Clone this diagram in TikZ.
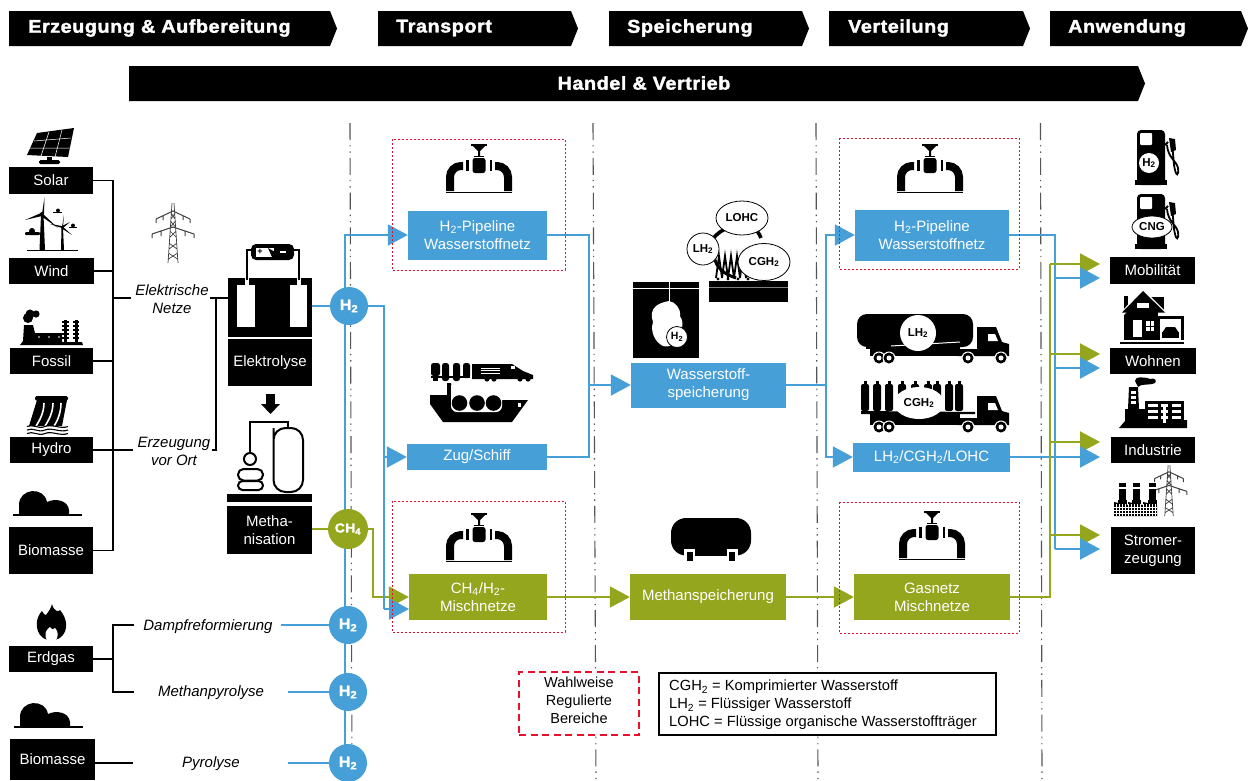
\documentclass[tikz,border=0pt]{standalone}
\usepackage{fontspec}
\setmainfont{Liberation Sans}
\newfontfamily\headfont[FakeBold=1.8,FakeStretch=1.07,LetterSpace=3]{Liberation Sans Bold}
\usetikzlibrary{arrows.meta,shapes.geometric}
\definecolor{hblue}{HTML}{479FD8}
\definecolor{holive}{HTML}{94A61E}
\definecolor{hred}{HTML}{E8112D}
\definecolor{hgray}{HTML}{555555}
\newcommand{\subtwo}{\textsubscript{2}}
\tikzset{
 every node/.style={font=\fontsize{15}{18}\selectfont,align=center,inner sep=0pt},
 hlabel/.style={text=white,font=\headfont\fontsize{18.5}{20}\selectfont,anchor=west},
 hlabelc/.style={text=white,font=\headfont\fontsize{18.5}{20}\selectfont},
 blackbox/.style={fill=black,text=white},
 bluebox/.style={fill=hblue,text=white},
 olivebox/.style={fill=holive,text=white},
 itl/.style={font=\itshape\fontsize{15}{18}\selectfont,text=black},
 bline/.style={draw=black,line width=1.3pt},
 blue line/.style={draw=hblue,line width=2pt},
 olive line/.style={draw=holive,line width=2pt},
 tipb/.style={-{Triangle[length=20pt,width=21pt,fill=hblue]}},
 tipo/.style={-{Triangle[length=20pt,width=21pt,fill=holive]}},
 sep/.style={draw=hgray,line width=1.1pt,dash pattern=on 17pt off 5pt on 1.4pt off 5pt on 1.4pt off 5pt},
 redbox/.style={draw=hred,line width=.8pt,dash pattern=on 2.4pt off 1.6pt},
 blueh/.style={circle,fill=hblue,text=white,minimum size=38pt,font=\headfont\fontsize{15}{14}\selectfont},
 oliveh/.style={circle,fill=holive,text=white,minimum size=40pt,font=\headfont\fontsize{13}{14}\selectfont},
 iconlabel/.style={font=\bfseries\fontsize{11.5}{12}\selectfont,text=black},
 pics/pipeicon/.style={code={
   \draw[line width=1.4pt] (-8,1)--(8,1);
   \fill (-7,1)--(7,1)--(1,7)--(1,12)--(-1,12)--(-1,7)--cycle;
   \draw[line width=1.4pt] (-5,12.5)--(5,12.5);
   \fill[rounded corners=2.5pt] (-6.5,14) rectangle (6.5,29);
   \fill (-13,15.5) rectangle (-10.5,27);
   \fill (10.5,15.5) rectangle (13,27);
   \draw[line width=8pt,line cap=butt,rounded corners=11pt] (-16,22)--(-29,22)--(-29,47);
   \draw[line width=8pt,line cap=butt,rounded corners=11pt] (16,22)--(29,22)--(29,47);
   \draw[line width=1.6pt] (-33,48.5)--(33,48.5);
 }},
 pics/hillicon/.style={code={
   \fill (19,514)--(19,505) .. controls (19,488) and (44,486) .. (47,502) .. controls (55,498) and (68,500) .. (69,510)--(69,514)--cycle;
   \draw[line width=1.6pt] (13,515)--(82,515);
 }},
 pics/pylonicon/.style={code={
   \draw[line width=.7pt,black!75] (-1,0)--(-5,60) (1,0)--(5,60) (-4,40)--(4,46) (4,40)--(-4,46) (-3,28)--(3,34) (3,28)--(-3,34) (-4.5,50)--(4.5,56) (4.5,50)--(-4.5,56) (-2,10)--(2,16) (2,10)--(-2,16) (-2.5,18)--(2.5,24) (2.5,18)--(-2.5,24);
   \draw[line width=1pt,black!75] (-17,16)--(0,8)--(17,16) (-17,16)--(-17,20) (17,16)--(17,20) (-21,31)--(0,24)--(21,31) (-21,31)--(-21,35) (21,31)--(21,35) (-10,13)--(-10,17) (10,13)--(10,17) (-12,28)--(-12,33) (12,28)--(12,33);
 }},
 pics/cabicon/.style={code={
   \fill (977,327)--(996,327)--(1002,342)--(1009,344)--(1009,356)--(958,356)--(958,349)--(977,349)--cycle;
   \fill[white] (988,334)--(995,334)--(998,341)--(988,341)--cycle;
   \fill (870,349) rectangle (960,356);
   \foreach \wx in {879,889,968,1001}{\fill[white] (\wx,358) circle (6.5); \fill (\wx,358) circle (5.5); \fill[white] (\wx,358) circle (2.5);}
 }},
 pics/pumpicon/.style={code={
   \fill[rounded corners=4pt] (1137,185)--(1137,130)--(1165,130)--(1165,185)--cycle;
   \fill (1135,180) rectangle (1167,185);
   \fill[white,rounded corners=1pt] (1140,133) rectangle (1152,145);
   \draw[line width=1.8pt] (1165,145)--(1168,142) (1172,142)--(1174,165) .. controls (1176,178) and (1179,176) .. (1178,168) .. controls (1176,160) and (1168,158) .. (1167,145);
   \fill (1169,138)--(1175,139)--(1176,150)--(1171,152)--cycle;
 }}
}
\begin{document}
\begin{tikzpicture}[x=1pt,y=-1pt]
\useasboundingbox (0,0) rectangle (1248,780);
\fill[white] (0,0) rectangle (1248,780);
% header chevrons
\fill (9,11)--(330,11)--(337,28.5)--(330,46)--(9,46)--cycle;
\fill (378,11)--(571,11)--(578,28.5)--(571,46)--(378,46)--cycle;
\fill (609,11)--(802,11)--(809,28.5)--(802,46)--(609,46)--cycle;
\fill (829,11)--(1023,11)--(1030,28.5)--(1023,46)--(829,46)--cycle;
\fill (1050,11)--(1241,11)--(1248,28.5)--(1241,46)--(1050,46)--cycle;
\fill (129,66)--(1138,66)--(1145,83.5)--(1138,101)--(129,101)--cycle;
\node[hlabel] (hA) at (28,28) {Erzeugung \& Aufbereitung};
\node[hlabel] (hB) at (396,28) {Transport};
\node[hlabel] (hC) at (627,28) {Speicherung};
\node[hlabel] (hD) at (848,28) {Verteilung};
\node[hlabel] (hE) at (1068,28) {Anwendung};
\node[hlabelc] (hF) at (644,83) {Handel \& Vertrieb};
% separators
\draw[sep] (350,123)--(352,780);
\draw[sep] (593,123)--(596,780);
\draw[sep] (816,123)--(818,780);
\draw[sep] (1040.5,123)--(1042,780);
% source boxes
\node[blackbox,minimum width=84pt,minimum height=27pt] (solar) at (51,180.5) {\raisebox{-1pt}{Solar}};
\node[blackbox,minimum width=85pt,minimum height=26pt] (wind) at (51.5,271) {\raisebox{-1pt}{Wind}};
\node[blackbox,minimum width=83pt,minimum height=26pt] (fossil) at (51.5,361) {\raisebox{-1pt}{Fossil}};
\node[blackbox,minimum width=83pt,minimum height=26pt] (hydro) at (51.5,450) {\raisebox{-1pt}{Hydro}};
\node[blackbox,minimum width=84pt,minimum height=47pt] (bioA) at (51,550.5) {\raisebox{-1pt}{Biomasse}};
\node[blackbox,minimum width=84pt,minimum height=26pt] (erdgas) at (51,659) {\raisebox{-1pt}{Erdgas}};
\node[blackbox,minimum width=85pt,minimum height=41pt] (bioB) at (52.5,759.5) {\raisebox{-4pt}{Biomasse}};
% process labels
\node[itl] (elnetz) at (172,299) {Elektrische\\Netze};
\node[itl] (vorort) at (174,451) {Erzeugung\\vor Ort};
\node[itl] (dampf) at (208,627) {Dampfreformierung};
\node[itl] (mpyro) at (211,693) {Methanpyrolyse};
\node[itl] (pyro) at (211,764) {Pyrolyse};
% Elektrolyse stack
\fill (228,278) rectangle (312,337);
\fill[white] (237,285) rectangle (255,327);
\fill[white] (290,285) rectangle (307,327);
\fill[white] (245,278) rectangle (249,285);
\fill[white] (297,278) rectangle (301,285);
\node[blackbox,minimum width=84pt,minimum height=47pt] (elyse) at (270,362.5) {Elektrolyse};
\draw[line width=1.8pt] (247,280)--(247,250)--(252,250) (299,280)--(299,250)--(293,250);
\fill[rounded corners=5pt] (251,244) rectangle (294,260);
\fill[white] (256,248) rectangle (274,257);
\fill (268,248)--(284,257)--(272,257)--cycle;
\node[font=\bfseries\fontsize{9}{9}\selectfont,text=black] (bplus) at (260,252) {+};
\fill[white] (280,251) rectangle (286,253);
% down arrow
\fill (266,394) rectangle (275,404);
\fill (261,404)--(280,404)--(270.5,414)--cycle;
% Methanisation icon
\draw[line width=2pt,rounded corners=12pt] (273.5,440)--(273.5,428)--(303,428)--(303,492)--(273.5,492)--cycle;
\draw[line width=2pt] (250,453)--(250,422)--(288,422)--(288,428);
\draw[line width=2pt] (250,459) circle (6);
\draw[line width=2pt,rounded corners=5.5pt] (238,469) rectangle (263,480.5);
\draw[line width=2pt,rounded corners=4.5pt] (238,481) rectangle (263,490);
\fill (227,494) rectangle (312,502);
\node[blackbox,minimum width=85pt,minimum height=48pt] (metha) at (269.5,530) {Metha-\\nisation};
% black connectors
\coordinate (busT) at (113,180.5);
\coordinate (busB) at (113,550.5);
\draw[bline] (solar.east)--(busT)--(busB)--(bioA.east);
\draw[bline] (wind.east)--(wind.east-|busT);
\draw[bline] (fossil.east)--(fossil.east-|busT);
\coordinate (busN) at (131,298);
\draw[bline] (busN-|busT)--(busN);
\coordinate (busV) at (133,450);
\draw[bline] (hydro.east)--(busV);
\coordinate (rN) at (210,298);
\coordinate (rV) at (212,450);
\coordinate (rB) at (216,298);
\draw[bline] (rN)--(228,298);
\draw[bline] (rB)--(rB|-rV)--(rV);
\coordinate (eT) at (113,625);
\coordinate (eB) at (113,692);
\coordinate (eTe) at (134,625);
\coordinate (eBe) at (134,692);
\draw[bline] (eTe)--(eT)--(eB)--(eBe);
\draw[bline] (erdgas.east)--(erdgas.east-|eT);
\coordinate (bE) at (133,763);
\draw[bline] (bioB.east|-bE)--(bE);
% boxes
\node[bluebox,minimum width=139pt,minimum height=49pt] (pipeL) at (477.5,235) {H\subtwo-Pipeline\\Wasserstoffnetz};
\node[bluebox,minimum width=140pt,minimum height=26pt] (zug) at (477,457) {Zug/Schiff};
\node[olivebox,minimum width=138pt,minimum height=46pt] (mischL) at (478,597) {CH\textsubscript{4}/H\subtwo-\\Mischnetze};
\node[bluebox,minimum width=155pt,minimum height=45pt] (wsp) at (708.5,385) {Wasserstoff-\\speicherung};
\node[olivebox,minimum width=156pt,minimum height=46pt] (msp) at (708,597) {Methanspeicherung};
\node[bluebox,minimum width=154pt,minimum height=51pt] (pipeR) at (932,235) {H\subtwo-Pipeline\\Wasserstoffnetz};
\node[bluebox,minimum width=157pt,minimum height=29pt] (lhc) at (931.5,457) {LH\subtwo/CGH\subtwo/LOHC};
\node[olivebox,minimum width=156pt,minimum height=46pt] (gas) at (932,597) {Gasnetz\\Mischnetze};
\node[blackbox,minimum width=85pt,minimum height=27pt] (mob) at (1152.5,270.5) {Mobilität};
\node[blackbox,minimum width=86pt,minimum height=26pt] (wohn) at (1153,361) {Wohnen};
\node[blackbox,minimum width=84pt,minimum height=26pt] (ind) at (1153,450) {Industrie};
\node[blackbox,minimum width=84pt,minimum height=47pt] (strom) at (1153,550.5) {Stromer-\\zeugung};
% junctions
\coordinate (vT) at (345,235);
\coordinate (vB) at (345,763);
\coordinate (j1) at (384,306);
\coordinate (j2) at (384,609);
\coordinate (mischBlue) at (409,609);
\coordinate (jc1) at (373,529);
\coordinate (jc2) at (373,597);
\coordinate (s1) at (589,235);
\coordinate (s2) at (589,457);
\coordinate (s3) at (589,385);
\coordinate (t1) at (826,385);
\coordinate (t2) at (826,235);
\coordinate (t3) at (826,457);
\coordinate (r1) at (1055,235);
\coordinate (r2) at (1055,549);
\coordinate (g1) at (1050,597);
\coordinate (g2) at (1050,264);
\coordinate (tipMo) at (1100,264);
\coordinate (tipMb) at (1100,278);
\coordinate (tipWo) at (1100,354);
\coordinate (tipWb) at (1100,368);
\coordinate (tipIo) at (1100,442);
\coordinate (tipIb) at (1100,457);
\coordinate (tipSo) at (1100,535);
\coordinate (tipSb) at (1100,549);
% blue connectors
\draw[blue line,tipb] (vB)--(vT)--(pipeL.west);
\draw[blue line] (pipeL.east)--(s1)--(s2)--(zug.east);
\draw[blue line,tipb] (s3)--(wsp.west);
\draw[blue line] (wsp.east)--(t1);
\draw[blue line,tipb] (t1)--(t2)--(pipeR.west);
\draw[blue line,tipb] (t1)--(t3)--(lhc.west);
\draw[blue line] (pipeR.east)--(r1)--(r2);
\draw[blue line] (lhc.east)--(lhc.east-|r1);
\draw[olive line] (gas.east)--(g1)--(g2);
\draw[olive line,tipo] (g2)--(tipMo);
\draw[olive line,tipo] (g1|-tipWo)--(tipWo);
\draw[olive line,tipo] (g1|-tipIo)--(tipIo);
\draw[olive line,tipo] (g1|-tipSo)--(tipSo);
\draw[blue line,tipb] (r1|-tipMb)--(tipMb);
\draw[blue line,tipb] (r1|-tipWb)--(tipWb);
\draw[blue line,tipb] (r1|-tipIb)--(tipIb);
\draw[blue line,tipb] (r2)--(tipSb);
% olive connectors
\draw[olive line,tipo] (mischL.east)--(msp.west);
\draw[olive line,tipo] (msp.east)--(gas.west);
% circles
\node[blueh] (hA1) at (349,306) {H\textsubscript{2}};
\node[oliveh] (chc) at (348,529) {CH\textsubscript{4}};
\node[blueh] (hA2) at (348,625) {H\textsubscript{2}};
\node[blueh] (hA3) at (348,692) {H\textsubscript{2}};
\node[blueh] (hA4) at (348,763) {H\textsubscript{2}};
\draw[blue line] (elyse.east|-hA1)--(hA1);
\coordinate (dampfE) at (281,625);
\coordinate (mpyE) at (288,692);
\coordinate (pyE) at (288,763);
\draw[blue line] (dampfE)--(hA2);
\draw[blue line] (mpyE)--(hA3);
\draw[blue line] (pyE)--(hA4);
\draw[olive line] (metha.east|-chc)--(chc);
\draw[olive line,tipo] (chc)--(jc1)--(jc2)--(mischL.west);
\draw[blue line] (hA1)--(j1)--(j2);
\draw[blue line,tipb] (j1|-zug.west)--(zug.west);
\draw[blue line,tipb] (j2)--(mischBlue);
% red regional boxes
\draw[redbox] (392,139) rectangle (565,270);
\draw[redbox] (392,501) rectangle (565,632);
\draw[redbox] (839,138) rectangle (1019,269);
\draw[redbox] (839,502) rectangle (1019,633);
% pipe icons
\pic at (479,144) {pipeicon};
\pic at (479,513) {pipeicon};
\pic at (930,144) {pipeicon};
\pic at (932,511) {pipeicon};
% pylon
\pic at (173,203) {pylonicon};
\pic[scale=.85] at (1169,465) {pylonicon};
% solar
\fill (37,133)--(74,128)--(68,157)--(27,155)--cycle;
\draw[white,line width=.5pt] (49,132)--(41,156) (62,130)--(55,157) (34,141)--(71,138) (30,148)--(70,148);
\fill (47,157) rectangle (52,160);
\fill[rounded corners=1.5pt] (39,160) rectangle (60,164);
% wind
\fill (41,215)--(43.5,215)--(45,250)--(39.5,250)--cycle;
\fill (42,214)--(44.5,197)--(44,214)--cycle;
\fill (41,213)--(25,220)--(42,216)--cycle;
\fill (42,213)--(58,228)--(41,216)--cycle;
\fill (42,214) circle (2);
\fill (61.5,228)--(63,228)--(64,250)--(61,250)--cycle;
\fill (62,227)--(64,215)--(63,227)--cycle;
\fill (62,226)--(50,224)--(62,228)--cycle;
\fill (62,226)--(72,235)--(61,228)--cycle;
\fill (62,226)--(70,222)--(63,228)--cycle;
\draw[line width=.8pt] (27,250)--(78,250);
\fill[rounded corners=1pt] (25,232) rectangle (40,235);
\fill (32,231) circle (3);
\fill (53,211.5) rectangle (62,212.5);
\fill (58,210.5) circle (2);
\fill (69,226.5) rectangle (77,227.5);
\fill (73,225.5) circle (2);
% fossil
\fill (24,325)--(33,325)--(35,333)--(62,333)--(62,342)--(82,342)--(83,345)--(20,345)--(23,341)--cycle;
\fill (28,318) circle (5);
\fill (36,314) circle (3.6);
\fill (30,314) circle (4.5);
\foreach \fx in {65.5,76}{\foreach \fy in {321,325,329,333,337}{\fill (\fx-3.3,\fy) rectangle (\fx+3.3,\fy+2.4);}\fill (\fx-1.5,320) rectangle (\fx+1.5,344);}
\foreach \fx in {39,49,59}{\fill[white] (\fx,337) circle (.8);}
% hydro
\fill[rounded corners=1.5pt] (35,396) rectangle (68,400.5);
\fill (37,400)--(67,400)--(62,426)--(29,426)--cycle;
\draw[white,line width=1.6pt] (44,403) .. controls (44,412) and (40,420) .. (36,426) (53,403) .. controls (53,412) and (49,420) .. (45,426) (61,403) .. controls (61,412) and (58,420) .. (54,426);
\foreach \wy in {426.5,430,433.5}{\draw[line width=1.1pt] (27,\wy) .. controls (33,\wy-3) and (38,\wy+3) .. (45,\wy) .. controls (52,\wy-3) and (60,\wy+3) .. (68,\wy);}
% hills
\pic at (0,0) {hillicon};
\pic at (1,212) {hillicon};
% flame
\fill (52,604) .. controls (54,612) and (59,612) .. (60,610) .. controls (67,618) and (69,630) .. (61,637) .. controls (57,641) and (46,641) .. (42,637) .. controls (35,631) and (35,618) .. (42,611) .. controls (43,614) and (45,615) .. (46,615) .. controls (48,612) and (51,609) .. (52,604)--cycle;
\fill[white] (50,627) .. controls (52,630) and (54,630) .. (55,628) .. controls (59,632) and (58,637) .. (56,640) -- (47,640) .. controls (44,636) and (45,630) .. (50,627)--cycle;
% train
\fill[rounded corners=2.5pt] (431,363) rectangle (440,376);
\fill (433,376) rectangle (438,381);
\fill[rounded corners=2.5pt] (442,363) rectangle (449,381);
\fill[rounded corners=2.5pt] (453,363) rectangle (460,381);
\fill[rounded corners=2.5pt] (463,363) rectangle (470,378);
\fill (431,376) rectangle (470,378);
\fill (472,364)--(512,364)--(523,371)--(533,375)--(533,379)--(472,379)--cycle;
\draw[white,line width=.6pt] (481,368)--(500,368) (481,370.5)--(500,370.5) (481,373)--(500,373);
\fill[white] (511,366) rectangle (515,369);
\foreach \wx in {487,494,520,528}{\fill (\wx,379) circle (2.6);}
% ship
\fill (430,395)--(447,395)--(447,383)--(451,383)--(453,395)--(500,400)--(528,400)--(512,422)--(443,422)--(430,404)--cycle;
\fill[white,rounded corners=6pt] (451,390) rectangle (502,412);
\fill[white] (451,385) rectangle (510,396);
\fill (447,383) rectangle (451,396);
\foreach \sx in {459.5,477,493.5}{\fill (\sx,403) circle (7.8);}
\fill[white] (518,403) rectangle (520.5,407);
% tank farm
\fill (709,281) rectangle (788,302);
\draw[gray,line width=.8pt] (709,287)--(788,287);
\draw[line width=3.6pt] (712,240) .. controls (716,234) and (722,230) .. (730,227);
\draw[line width=3.6pt] (752,228) .. controls (757,230) and (759,233) .. (761,238);
\foreach \zx in {716,722,728,734,740,746}{\draw[line width=1.8pt] (\zx,278)--(\zx+3,256)--(\zx+6,278);}
\draw[line width=3pt] (714,256) .. controls (716,268) and (724,274) .. (736,278);
\foreach \zx in {718,728,738,748,758,768}{\fill (\zx,279) circle (1.6);}
\node[ellipse,draw=black,fill=white,line width=.8pt,minimum width=52pt,minimum height=34pt,iconlabel] (lohcb) at (742,218) {LOHC};
\node[circle,draw=black,fill=white,line width=.8pt,minimum size=32pt,iconlabel] (lhb) at (703,249) {LH\textsubscript{2}};
\node[ellipse,draw=black,fill=white,line width=.8pt,minimum width=52pt,minimum height=37pt,iconlabel] (cghb) at (764,262) {CGH\textsubscript{2}};
% cavern
\fill (633,282) rectangle (699,358);
\draw[white,line width=1pt] (633,288)--(699,288);
\draw[white,line width=1pt] (669,282)--(669,302);
\fill[white] (669,301) .. controls (675,302) and (681,308) .. (680,316) .. controls (684,322) and (683,328) .. (679,333) .. controls (678,343) and (670,348) .. (663,346) .. controls (655,342) and (650,332) .. (653,322) .. controls (651,316) and (651,310) .. (656,306) .. controls (660,303) and (664,302) .. (669,301)--cycle;
\node[circle,draw=black,fill=white,line width=.8pt,minimum size=21pt,font=\bfseries\fontsize{10.5}{11}\selectfont] (hcav) at (677,337) {H\textsubscript{2}};
% trucks
\fill[rounded corners=10pt] (857,314) rectangle (973,347);
\fill (866,340) rectangle (960,349);
\draw[white,line width=1pt] (891,346)--(960,342);
\pic at (0,0) {cabicon};
\node[circle,fill=white,minimum size=36pt,iconlabel] (lht) at (918,333) {LH\textsubscript{2}};
\foreach \cx in {865,877,889,902,915,928,937,949,959}{\fill[rounded corners=2pt] (\cx-4,384) rectangle (\cx+4,411); \fill (\cx-1.5,381) rectangle (\cx+1.5,385);}
\fill (861,411)--(975,412)--(975,414)--(861,414)--cycle;
\fill (870,414) rectangle (960,418);
\pic at (0,69) {cabicon};
\node[ellipse,fill=white,minimum width=50pt,minimum height=32pt,iconlabel] (cgt) at (919,403) {CGH\textsubscript{2}};
% methane tank
\fill[rounded corners=15pt] (671,518) rectangle (751,555.5);
\fill (686,552) rectangle (736,556);
\fill[white] (684,549) rectangle (695,561);
\fill[white] (727,549) rectangle (738,561);
\fill (687,551.5) rectangle (693,561);
\fill (729,551.5) rectangle (735,561);
% pumps
\pic at (0,0) {pumpicon};
\pic at (0,64) {pumpicon};
\node[circle,fill=white,minimum size=20pt,iconlabel] (hp) at (1149,163) {H\textsubscript{2}};
\node[ellipse,draw=black,fill=white,line width=.8pt,minimum width=40pt,minimum height=22pt,iconlabel] (cngp) at (1152,227) {CNG};
% house
\fill (1124,296) rectangle (1128,310);
\fill (1145,297) rectangle (1164,312);
\fill (1124,312) rectangle (1158,340);
\fill[white] (1143,289)--(1120,313)--(1124,315)--(1143,295)--(1165,315)--(1167,313)--cycle;
\fill (1143,291)--(1122,312.5)--(1165,312.5)--cycle;
\fill[white] (1137,303) rectangle (1149,308);
\fill[white] (1133,320) rectangle (1142,337);
\fill[white] (1146,321) rectangle (1154,331);
\fill (1149.5,321) rectangle (1150.5,331);
\fill (1146,325.5) rectangle (1154,326.5);
\fill (1158,316) rectangle (1184,340);
\fill[white] (1160,319) rectangle (1181,340);
\fill (1162,332) rectangle (1179,338);
\fill (1166,327)--(1175,327)--(1179,333)--(1162,333)--cycle;
\draw[line width=1.6pt] (1120,343)--(1184,343);
% factory
\fill (1129,387)--(1138,387)--(1139,409)--(1146,409)--(1146,420)--(1187,420)--(1187,428)--(1119,428)--(1125,421)--(1125,409)--(1128,409)--cycle;
\foreach \fy in {391,396,401}{\fill[white] (1131,\fy) rectangle (1136,\fy+2.5);}
\fill (1145,401) rectangle (1184,426);
\foreach \fy in {404,410,416}{\fill[white] (1148,\fy) rectangle (1158,\fy+3); \fill[white] (1161,\fy) rectangle (1168,\fy+3); \fill[white] (1172,\fy) rectangle (1181,\fy+3);}
\fill[white] (1163,405) rectangle (1166,423);
\fill (1135,381) .. controls (1134,376) and (1146,377) .. (1150,379) .. controls (1155,377) and (1157,381) .. (1155,383) .. controls (1148,386) and (1142,383) .. (1138,387)--cycle;
% power station
\foreach \px in {1122,1136,1152}{\fill (\px-3.5,483) rectangle (\px+3.5,487); \fill (\px-3.5,489) rectangle (\px+3.5,506); \fill (\px-4.5,500)--(\px+4.5,500)--(\px+4.5,506)--(\px-4.5,506)--cycle;}
\fill (1114,502)--(1128,505)--(1128,516)--(1114,516)--cycle;
\fill (1128,502)--(1143,505)--(1143,516)--(1128,516)--cycle;
\fill (1143,502)--(1157,505)--(1157,516)--(1143,516)--cycle;
\foreach \hx in {1116,1119,...,1155}{\draw[white,line width=.5pt] (\hx,504)--(\hx,516);}
\foreach \hy in {507,510,513}{\draw[white,line width=.5pt] (1114,\hy)--(1157,\hy);}
% legends
\node[draw=hred,fill=white,line width=2.3pt,dash pattern=on 7pt off 4.5pt,minimum width=120pt,minimum height=63pt] (wahl) at (579,703.5) {};
\node[text=black,font=\fontsize{14.5}{18}\selectfont] (wahlt) at (579,700.5) {Wahlweise\\Regulierte\\Bereiche};
\node[draw=black,fill=white,line width=2pt,minimum width=337pt,minimum height=62pt] (legend) at (827.5,704) {};
\node[text=black,align=left,anchor=west,font=\fontsize{14.7}{18}\selectfont] (legendt) at (669,705) {CGH\subtwo{} = Komprimierter Wasserstoff\\LH\subtwo{} = Flüssiger Wasserstoff\\LOHC = Flüssige organische Wasserstoffträger};
\end{tikzpicture}
\end{document}
